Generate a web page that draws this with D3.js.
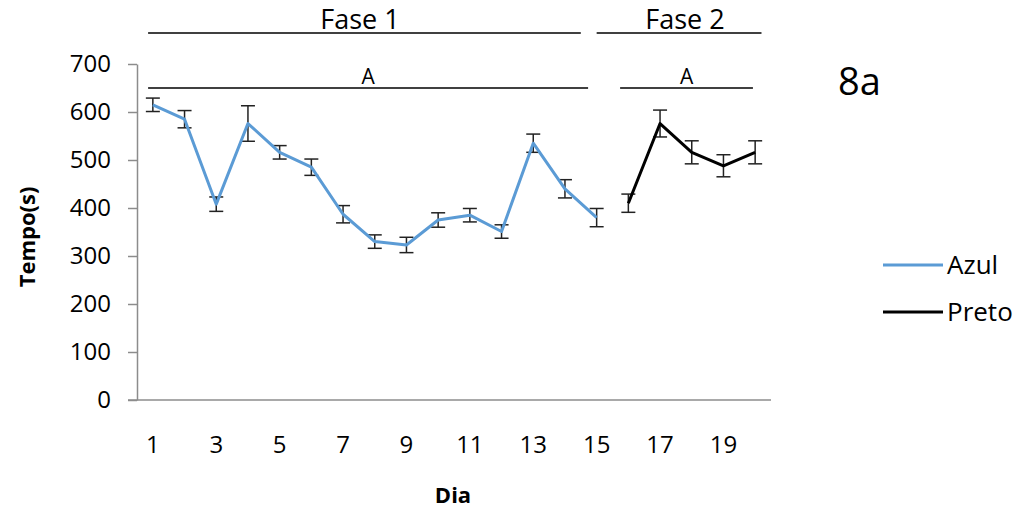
<!DOCTYPE html>
<html>
<head>
<meta charset="utf-8">
<script src="https://cdn.jsdelivr.net/npm/d3@7"></script>
<style>
  html, body { margin: 0; padding: 0; background: #fff; }
  svg { display: block; font-family: "Open Sans", "Noto Sans", sans-serif; }
</style>
</head>
<body>
<svg id="chart" width="1019" height="510"></svg>
<script>
// Days of the experiment and mean time per day (s) with error bar half-widths
const days = [1, 2, 3, 4, 5, 6, 7, 8, 9, 10, 11, 12, 13, 14, 15, 16, 17, 18, 19, 20];
const xTickDays = [1, 3, 5, 7, 9, 11, 13, 15, 17, 19];
const yTicks = [0, 100, 200, 300, 400, 500, 600, 700];

const azulDays = [1, 2, 3, 4, 5, 6, 7, 8, 9, 10, 11, 12, 13, 14, 15];
const azulMean = [615, 585, 408, 576, 516, 485, 387, 330, 323, 375, 385, 351, 535, 440, 380];
const azulErr  = [14, 18, 15, 37, 14, 17, 18, 14, 16, 15, 14, 14, 19, 19, 19];

const pretoDays = [16, 17, 18, 19, 20];
const pretoMean = [410, 576, 516, 488, 516];
const pretoErr  = [19, 28, 24, 23, 24];

const seriesNames = ["Azul", "Preto"];
const seriesColors = ["#5b9bd5", "#000000"];

const phaseLabels = ["Fase 1", "Fase 2"];
const groupLabels = ["A", "A"];

const svg = d3.select("#chart");

const plotLeft = 137, plotRight = 771, plotTop = 64, plotBottom = 400;

const x = d3.scaleBand().domain(days).range([plotLeft, plotRight]).padding(0);
const xc = d => x(d) + x.bandwidth() / 2;
// fractional day position (for annotation brackets)
const xf = d => plotLeft + (d - 0.5) * x.bandwidth();
const y = d3.scaleLinear().domain([0, 700]).range([plotBottom, plotTop]);

const axisColor = "#8c8c8c";

// Y axis
const yAxis = svg.append("g").attr("transform", `translate(${plotLeft},0)`)
  .call(d3.axisLeft(y).tickValues(yTicks).tickSize(9).tickPadding(17).tickSizeOuter(0));
yAxis.select(".domain").attr("stroke", axisColor).attr("stroke-width", 1.5);
yAxis.selectAll(".tick line").attr("stroke", axisColor).attr("stroke-width", 1.5);
yAxis.selectAll(".tick text").attr("font-size", 24).attr("fill", "#000")
  .attr("font-family", "Open Sans");

// X axis
svg.append("line").attr("x1", plotLeft - 9).attr("x2", plotRight)
  .attr("y1", plotBottom).attr("y2", plotBottom)
  .attr("stroke", axisColor).attr("stroke-width", 1.5);
const xAxis = svg.append("g").attr("transform", `translate(0,${plotBottom})`)
  .call(d3.axisBottom(x).tickValues(xTickDays).tickSize(0).tickPadding(36));
xAxis.select(".domain").remove();
xAxis.selectAll(".tick text").attr("font-size", 24).attr("fill", "#000")
  .attr("font-family", "Open Sans");

// Axis titles
svg.append("text").attr("x", 453).attr("y", 503).attr("text-anchor", "middle")
  .attr("font-size", 22).attr("font-weight", "bold").text("Dia");
svg.append("text").attr("transform", "translate(35,237) rotate(-90)")
  .attr("text-anchor", "middle").attr("font-size", 22).attr("font-weight", "bold")
  .text("Tempo(s)");

// Series: error bars then line
function drawSeries(ds, means, errs, color) {
  const pts = ds.map((d, i) => ({ d, v: means[i], e: errs[i] }));
  const eb = svg.append("g");
  pts.forEach(p => {
    const cx = xc(p.d), y1 = y(p.v + p.e), y2 = y(p.v - p.e);
    eb.append("line").attr("x1", cx).attr("x2", cx).attr("y1", y1).attr("y2", y2)
      .attr("stroke", "#222").attr("stroke-width", 1.5);
    [y1, y2].forEach(yy => eb.append("line").attr("x1", cx - 7).attr("x2", cx + 7)
      .attr("y1", yy).attr("y2", yy).attr("stroke", "#222").attr("stroke-width", 1.5));
  });
  svg.append("path").datum(pts)
    .attr("d", d3.line().x(p => xc(p.d)).y(p => y(p.v)))
    .attr("fill", "none").attr("stroke", color).attr("stroke-width", 3)
    .attr("stroke-linejoin", "round");
}
drawSeries(azulDays, azulMean, azulErr, seriesColors[0]);
drawSeries(pretoDays, pretoMean, pretoErr, seriesColors[1]);

// Phase brackets
const phaseSpans = [[0.85, 14.5], [15.0, 20.2]];
const groupSpans = [[0.85, 14.73], [15.74, 19.93]];
phaseLabels.forEach((lab, i) => {
  const [a, b] = phaseSpans[i];
  svg.append("line").attr("x1", xf(a)).attr("x2", xf(b)).attr("y1", 33).attr("y2", 33)
    .attr("stroke", "#000").attr("stroke-width", 1.5);
  svg.append("text").attr("x", i === 0 ? 360 : 685).attr("y", 29)
    .attr("text-anchor", "middle").attr("font-size", 27).text(lab);
});
groupLabels.forEach((lab, i) => {
  const [a, b] = groupSpans[i];
  svg.append("line").attr("x1", xf(a)).attr("x2", xf(b)).attr("y1", 88).attr("y2", 88)
    .attr("stroke", "#000").attr("stroke-width", 1.5);
  svg.append("text").attr("x", (xf(a) + xf(b)) / 2).attr("y", 84)
    .attr("text-anchor", "middle").attr("font-size", 21).text(lab);
});

// Panel label
svg.append("text").attr("x", 838).attr("y", 95).attr("font-size", 38).text("8a");

// Legend
const legY = [265, 312];
seriesNames.forEach((n, i) => {
  svg.append("line").attr("x1", 883).attr("x2", 943).attr("y1", legY[i]).attr("y2", legY[i])
    .attr("stroke", seriesColors[i]).attr("stroke-width", 3);
  svg.append("text").attr("x", 947).attr("y", legY[i] + 9).attr("font-size", 26).text(n);
});
</script>
</body>
</html>
